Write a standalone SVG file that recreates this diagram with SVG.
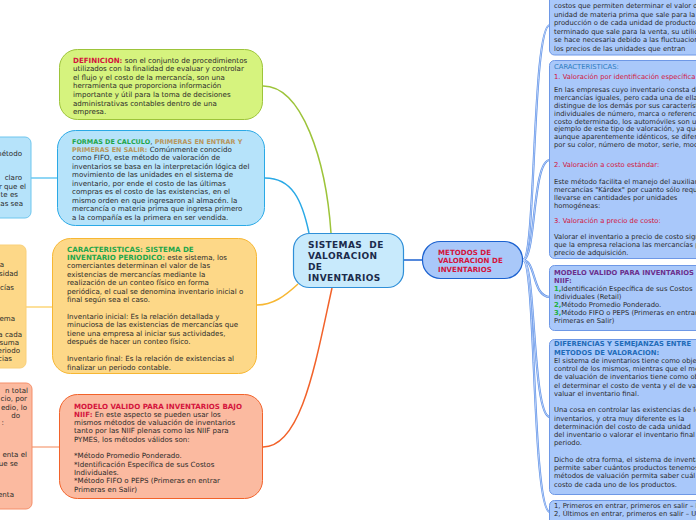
<svg xmlns="http://www.w3.org/2000/svg" width="696" height="520" viewBox="0 0 696 520">
<style>
text{font-family:"DejaVu Sans",Verdana,sans-serif;font-size:7.1px;fill:#2a2a2a}
.r{font-size:6.8px}
.b{font-weight:bold}
.cr{fill:#d4143c}
.gr{fill:#1fa64a}
.tan{fill:#b8965c}
.sm{font-size:6.45px}
.e{text-anchor:end}
.ctr{font-size:9px;font-weight:bold;fill:#1b2b4b;letter-spacing:0.4px;white-space:pre}
.rn{fill:#a9c8fa;stroke:#6e98e6;stroke-width:1}
.lc{fill:none;stroke-width:1.5}
.rc1{fill:none;stroke:#5b8fe6;stroke-width:2.2}
.rc2{fill:none;stroke:#dfeaff;stroke-width:0.7}
</style>
<rect width="696" height="520" fill="#ffffff"/>

<g id="connectors">
  <path class="lc" stroke="#9dc43a" d="M263,86 C302,86 326,160 331,233"/>
  <path class="lc" stroke="#2aa9e6" d="M265,178 C292,178 302,200 309,233"/>
  <path class="lc" stroke="#f7b733" d="M257,305 C273,305 285,296 298,284"/>
  <path class="lc" stroke="#f2622a" d="M263,447 C302,447 316,360 332,288"/>
  <path fill="none" stroke="#1c62d0" stroke-width="1.5" d="M404,260 L422,260"/>
  <path fill="none" stroke="#8fd6f5" stroke-width="2" d="M31,178 L57,178"/>
  <path fill="none" stroke="#fde09a" stroke-width="2" d="M26,307 L52,307"/>
  <path fill="none" stroke="#f9c3ab" stroke-width="2" d="M32,447 L59,447"/>
  <g>
    <path class="rc1" d="M523,260 C536,260 532,25 550,25"/>
    <path class="rc1" d="M523,260 C536,260 532,160 550,160"/>
    <path class="rc1" d="M523,260 C536,260 532,297 550,297"/>
    <path class="rc1" d="M523,260 C536,260 532,417 550,417"/>
    <path class="rc1" d="M523,260 C536,260 532,512 550,512"/>
    <path class="rc2" d="M523,260 C536,260 532,25 550,25"/>
    <path class="rc2" d="M523,260 C536,260 532,160 550,160"/>
    <path class="rc2" d="M523,260 C536,260 532,297 550,297"/>
    <path class="rc2" d="M523,260 C536,260 532,417 550,417"/>
    <path class="rc2" d="M523,260 C536,260 532,512 550,512"/>
  </g>
</g>

<g id="left-partial-blue">
  <rect x="-40" y="137" width="71" height="81" rx="6" fill="#b6e3fa" stroke="#6fc6ee"/>
  <text class="e" x="22" y="155.5">el método</text>
  <text class="e" x="22" y="180">claro</text>
  <text class="e" x="26" y="188.5">r que el</text>
  <text class="e" x="18" y="197">te es</text>
  <text class="e" x="23" y="205.5">as sea</text>
</g>
<g id="left-partial-yellow">
  <rect x="-40" y="245" width="66" height="123" rx="6" fill="#fdd888" stroke="#f9d07a"/>
  <text class="e" x="4" y="267">a</text>
  <text class="e" x="18" y="275.5">sidad</text>
  <text class="e" x="14" y="289.5">cías</text>
  <text class="e" x="15" y="321">ema</text>
  <text class="e" x="22" y="337">a cada</text>
  <text class="e" x="19" y="345">suma</text>
  <text class="e" x="20" y="353">eriodo</text>
  <text class="e" x="12" y="361">cias</text>
</g>
<g id="left-partial-salmon">
  <rect x="-40" y="383" width="72" height="126" rx="6" fill="#fbbaa0" stroke="#f58f6a"/>
  <text class="e" x="28" y="393">n total</text>
  <text class="e" x="27" y="401">cio, por</text>
  <text class="e" x="27" y="409.5">edio, lo</text>
  <text class="e" x="20" y="417.5">do</text>
  <text class="e" x="4" y="425">:</text>
  <text class="e" x="27" y="457">enta el</text>
  <text class="e" x="18" y="465.5">ue se</text>
  <text class="e" x="14" y="496.5">enta</text>
</g>

<g id="definicion">
  <rect x="59.5" y="49.5" width="203" height="70" rx="18" fill="#d6f37e" stroke="#9dc43a"/>
  <text x="73" y="62.5"><tspan class="b cr">DEFINICION:</tspan> son el conjunto de procedimientos</text>
  <text x="73" y="71.1">utilizados con la finalidad de evaluar y controlar</text>
  <text x="73" y="79.7">el flujo y el costo de la mercancía, son una</text>
  <text x="73" y="88.3">herramienta que proporciona información</text>
  <text x="73" y="96.9">importante y útil para la toma de decisiones</text>
  <text x="73" y="105.5">administrativas contables dentro de una</text>
  <text x="73" y="114.1">empresa.</text>
</g>

<g id="formas">
  <rect x="57.5" y="130.5" width="207" height="95" rx="18" fill="#b6e3fa" stroke="#2aa9e6"/>
  <text x="72" y="143.5"><tspan class="b gr sm">FORMAS DE CALCULO</tspan>, <tspan class="b tan sm">PRIMERAS EN ENTRAR Y</tspan></text>
  <text x="72" y="151.9"><tspan class="b tan sm">PRIMERAS EN SALIR:</tspan> Comúnmente conocido</text>
  <text x="72" y="160.4">como FIFO, este método de valoración de</text>
  <text x="72" y="168.8">inventarios se basa en la interpretación lógica del</text>
  <text x="72" y="177.3">movimiento de las unidades en el sistema de</text>
  <text x="72" y="185.7">inventario, por ende el costo de las últimas</text>
  <text x="72" y="194.1">compras es el costo de las existencias, en el</text>
  <text x="72" y="202.6">mismo orden en que ingresaron al almacén. la</text>
  <text x="72" y="211.0">mercancía o materia prima que ingresa primero</text>
  <text x="72" y="219.5">a la compañía es la primera en ser vendida.</text>
</g>

<g id="caracteristicas-periodico">
  <rect x="52.5" y="238.5" width="204" height="135" rx="18" fill="#fdd888" stroke="#f7b733"/>
  <text x="67" y="251.5" class="b gr">CARACTERISTICAS: SISTEMA DE</text>
  <text x="67" y="259.9"><tspan class="b gr">INVENTARIO PERIODICO:</tspan> este sistema, los</text>
  <text x="67" y="268.4">comerciantes determinan el valor de las</text>
  <text x="67" y="276.8">existencias de mercancías mediante la</text>
  <text x="67" y="285.2">realización de un conteo físico en forma</text>
  <text x="67" y="293.7">periódica, el cual se denomina inventario inicial o</text>
  <text x="67" y="302.1">final según sea el caso.</text>
  <text x="67" y="318.9">Inventario inicial: Es la relación detallada y</text>
  <text x="67" y="327.4">minuciosa de las existencias de mercancías que</text>
  <text x="67" y="335.8">tiene una empresa al iniciar sus actividades,</text>
  <text x="67" y="344.2">después de hacer un conteo físico.</text>
  <text x="67" y="361.1">Inventario final: Es la relación de existencias al</text>
  <text x="67" y="369.5">finalizar un periodo contable.</text>
</g>

<g id="modelo-niif">
  <rect x="59.5" y="394.5" width="203" height="104" rx="18" fill="#fbbaa0" stroke="#f2622a"/>
  <text x="74" y="408.5" class="b cr">MODELO VALIDO PARA INVENTARIOS BAJO</text>
  <text x="74" y="416.8"><tspan class="b cr">NIIF:</tspan> En este aspecto se pueden usar los</text>
  <text x="74" y="425.1">mismos métodos de valuación de inventarios</text>
  <text x="74" y="433.4">tanto por las NIIF plenas como las NIIF para</text>
  <text x="74" y="441.7">PYMES, los métodos válidos son:</text>
  <text x="74" y="458.3">*Método Promedio Ponderado.</text>
  <text x="74" y="466.6">*Identificación Específica de sus Costos</text>
  <text x="74" y="474.9">Individuales.</text>
  <text x="74" y="483.2">*Método FIFO o PEPS (Primeras en entrar</text>
  <text x="74" y="491.5">Primeras en Salir)</text>
</g>

<g id="central">
  <rect x="293.5" y="233.5" width="110" height="54" rx="16" fill="#c8eafc" stroke="#2f8fd8" stroke-width="1.2"/>
  <text class="ctr" x="308" y="248">SISTEMAS  DE</text>
  <text class="ctr" x="308" y="259">VALORACION</text>
  <text class="ctr" x="308" y="270">DE</text>
  <text class="ctr" x="308" y="281">INVENTARIOS</text>
</g>

<g id="metodos">
  <rect x="422.5" y="241.5" width="100" height="37" rx="18" fill="#a9c8f9" stroke="#1c62d0" stroke-width="1.2"/>
  <text x="438" y="254.5" class="b cr">METODOS DE</text>
  <text x="438" y="263" class="b cr">VALORACION DE</text>
  <text x="438" y="271.5" class="b cr">INVENTARIOS</text>
</g>

<g id="r-costos">
  <rect class="rn" x="549.5" y="-10" width="200" height="65" rx="5"/>
  <text class="r" x="554" y="8.4">costos que permiten determinar el valor de la</text>
  <text class="r" x="554" y="17">unidad de materia prima que sale para la</text>
  <text class="r" x="554" y="25.4">producción o de cada unidad de producto</text>
  <text class="r" x="554" y="34">terminado que sale para la venta, su utilidad</text>
  <text class="r" x="554" y="42.4">se hace necesaria debido a las fluctuaciones de</text>
  <text class="r" x="554" y="50.6">los precios de las unidades que entran</text>
</g>

<g id="r-caracteristicas">
  <rect class="rn" x="549.5" y="60.5" width="200" height="198" rx="5"/>
  <text class="r" x="554" y="69.4" style="fill:#2d7cc0">CARACTERISTICAS:</text>
  <text class="r cr" x="554" y="79.4">1. Valoración por identificación específica</text>
  <text class="r" x="554" y="92.4">En las empresas cuyo inventario consta de</text>
  <text class="r" x="554" y="100.2">mercancías iguales, pero cada una de ellas se</text>
  <text class="r" x="554" y="108">distingue de los demás por sus características</text>
  <text class="r" x="554" y="115.8">individuales de número, marca o referencia y</text>
  <text class="r" x="554" y="123.6">costo determinado, los automóviles son un</text>
  <text class="r" x="554" y="131.4">ejemplo de este tipo de valoración, ya que</text>
  <text class="r" x="554" y="139.2">aunque aparentemente idénticos, se diferencian</text>
  <text class="r" x="554" y="147">por su color, número de motor, serie, modelo</text>
  <text class="r cr" x="554" y="167.4">2. Valoración a costo estándar:</text>
  <text class="r" x="554" y="184.4">Este método facilita el manejo del auxiliar de</text>
  <text class="r" x="554" y="192.4">mercancías "Kárdex" por cuanto sólo requiere</text>
  <text class="r" x="554" y="200.4">llevarse en cantidades por unidades</text>
  <text class="r" x="554" y="208.4">homogéneas:</text>
  <text class="r cr" x="554" y="223.4">3. Valoración a precio de costo:</text>
  <text class="r" x="554" y="239.4">Valorar el inventario a precio de costo significa</text>
  <text class="r" x="554" y="247.4">que la empresa relaciona las mercancías por su</text>
  <text class="r" x="554" y="255.4">precio de adquisición.</text>
</g>

<g id="r-modelo">
  <rect class="rn" x="549.5" y="265.5" width="200" height="65" rx="5"/>
  <text class="r b" x="554" y="275.4" style="fill:#6b2f8c">MODELO VALIDO PARA INVENTARIOS BAJO</text>
  <text class="r b" x="554" y="283.4" style="fill:#6b2f8c">NIIF:</text>
  <text class="r" x="554" y="291.4"><tspan class="b" style="fill:#20b040">1,</tspan>Identificación Específica de sus Costos</text>
  <text class="r" x="554" y="299.4">Individuales (Retail)</text>
  <text class="r" x="554" y="307.4"><tspan class="b" style="fill:#20b040">2,</tspan>Método Promedio Ponderado.</text>
  <text class="r" x="554" y="315.4"><tspan class="b" style="fill:#20b040">3,</tspan>Método FIFO o PEPS (Primeras en entrar</text>
  <text class="r" x="554" y="323.4">Primeras en Salir)</text>
</g>

<g id="r-diferencias">
  <rect class="rn" x="549.5" y="339.5" width="200" height="155" rx="5"/>
  <text class="r b" x="554" y="346.4" style="fill:#1e6bb8">DIFERENCIAS Y SEMEJANZAS ENTRE</text>
  <text class="r b" x="554" y="354.6" style="fill:#1e6bb8">METODOS DE VALORACION:</text>
  <text class="r" x="554" y="362.9">El sistema de inventarios tiene como objeto el</text>
  <text class="r" x="554" y="371.1">control de los mismos, mientras que el método</text>
  <text class="r" x="554" y="379.4">de valuación de inventarios tiene como objeto</text>
  <text class="r" x="554" y="387.6">el determinar el costo de venta y el de valuar</text>
  <text class="r" x="554" y="395.9">valuar el inventario final.</text>
  <text class="r" x="554" y="412.4">Una cosa en controlar las existencias de los</text>
  <text class="r" x="554" y="420.6">inventarios, y otra muy diferente es la</text>
  <text class="r" x="554" y="428.9">determinación del costo de cada unidad</text>
  <text class="r" x="554" y="437.1">del inventario o valorar el inventario final del</text>
  <text class="r" x="554" y="445.4">periodo.</text>
  <text class="r" x="554" y="461.9">Dicho de otra forma, el sistema de inventarios</text>
  <text class="r" x="554" y="470.1">permite saber cuántos productos tenemos y los</text>
  <text class="r" x="554" y="478.4">métodos de valuación permita saber cuál es el</text>
  <text class="r" x="554" y="486.6">costo de cada uno de los productos.</text>
</g>

<g id="r-primeros">
  <rect class="rn" x="549.5" y="500.5" width="200" height="40" rx="5"/>
  <text class="r" x="554" y="508.4">1, Primeros en entrar, primeros en salir – PEPS</text>
  <text class="r" x="554" y="516.4">2, Últimos en entrar, primeros en salir – UEPS</text>
</g>
</svg>
